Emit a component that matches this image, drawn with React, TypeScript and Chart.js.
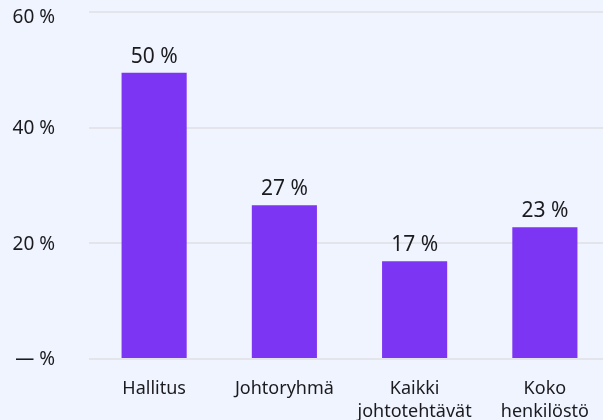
import React, { useEffect, useRef } from "react";
import { Chart, registerables } from "chart.js";

Chart.register(...registerables);

const categories: (string | string[])[] = ["Hallitus", "Johtoryhmä", ["Kaikki", "johtotehtävät"], ["Koko", "henkilöstö"]];
const values: number[] = [49.5, 26.6, 16.9, 22.8];
const yTicks: number[] = [0, 20, 40, 60];
const yTickLabels: string[] = ["— %", "20 %", "40 %", "60 %"];

const FONT = "'Noto Sans', sans-serif";
const TEXT = "#1b1b1f";
const BAR = "#7c35f3";
const BG = "#f0f4fe";

const labelPlugin = {
  id: "barLabels",
  afterDatasetsDraw(chart: any) {
    const ctx = chart.ctx;
    const meta = chart.getDatasetMeta(0);
    ctx.save();
    ctx.font = `21px ${FONT}`;
    ctx.fillStyle = TEXT;
    ctx.textAlign = "center";
    ctx.textBaseline = "alphabetic";
    meta.data.forEach((el: any, i: number) => {
      ctx.fillText(`${Math.round(values[i])} %`, el.x, el.y - 10);
    });
    ctx.restore();
  },
};

const yLabelPlugin = {
  id: "yLabels",
  afterDraw(chart: any) {
    const ctx = chart.ctx;
    const scale = chart.scales.y;
    ctx.save();
    ctx.font = `19px ${FONT}`;
    ctx.fillStyle = TEXT;
    ctx.textAlign = "right";
    ctx.textBaseline = "middle";
    yTicks.forEach((v, i) => {
      let y = scale.getPixelForValue(v);
      if (v === scale.max) y += 6;
      else y += 1;
      ctx.fillText(yTickLabels[i], 55, y);
    });
    ctx.restore();
  },
};

export default function App() {
  const ref = useRef<HTMLCanvasElement>(null);
  useEffect(() => {
    if (!ref.current) return;
    const chart = new Chart(ref.current, {
      type: "bar",
      data: {
        labels: categories,
        datasets: [
          {
            data: values,
            backgroundColor: BAR,
            barPercentage: 0.5,
            categoryPercentage: 1,
          },
        ],
      },
      options: {
        animation: false,
        responsive: false,
        maintainAspectRatio: false,
        layout: { padding: { top: 12, right: 1, bottom: 0, left: 0 } },
        plugins: { legend: { display: false }, tooltip: { enabled: false } },
        scales: {
          x: {
            grid: { display: false, drawTicks: false },
            border: { display: false },
            ticks: {
              color: TEXT,
              font: { family: FONT, size: 18, lineHeight: 1.3 },
              padding: 18,
              maxRotation: 0,
              autoSkip: false,
            },
            afterFit(scale: any) {
              scale.height = 61;
              scale.paddingLeft = 0;
              scale.paddingRight = 0;
            },
          },
          y: {
            min: 0,
            max: 60,
            afterBuildTicks(scale: any) {
              scale.ticks = yTicks.map((v) => ({ value: v }));
            },
            grid: { color: "#e3e5ea", lineWidth: 2, drawTicks: false },
            border: { display: false },
            ticks: { display: false },
            afterFit(scale: any) {
              scale.width = 89;
              scale.paddingTop = 0;
              scale.paddingBottom = 0;
            },
          },
        },
      },
      plugins: [labelPlugin, yLabelPlugin],
    });
    return () => chart.destroy();
  }, []);
  return (
    <div
      style={{
        position: "fixed",
        left: 0,
        top: 0,
        width: 603,
        height: 420,
        overflow: "hidden",
        background: BG,
      }}
    >
      <canvas ref={ref} width={611} height={420} style={{ display: "block" }} />
    </div>
  );
}
